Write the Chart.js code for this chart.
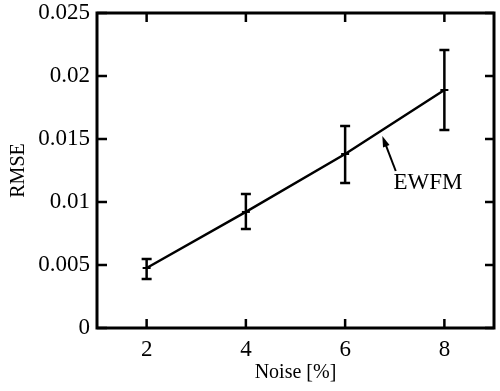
<!DOCTYPE html>
<html>
<head>
<meta charset="utf-8">
<script src="https://cdn.jsdelivr.net/npm/chart.js@4"></script>
<style>
  html, body { margin: 0; padding: 0; background: #fff; }
  #wrap { width: 500px; height: 391px; }
</style>
</head>
<body>
<div id="wrap"><canvas id="rmseChart"></canvas></div>
<script>
// data
const noise = [2, 4, 6, 8];
const rmse = [0.00476, 0.00921, 0.01381, 0.01889];
const rmseLow = [0.00389, 0.00786, 0.01151, 0.01571];
const rmseHigh = [0.00548, 0.01063, 0.01603, 0.02206];
const xTicks = [2, 4, 6, 8];
const yTicks = [0, 0.005, 0.01, 0.015, 0.02, 0.025];
const yTickLabels = ['0', '0.005', '0.01', '0.015', '0.02', '0.025'];
const seriesName = 'EWFM';
// annotation: arrow tail/tip and label anchor, in data units
const arrowTail = [7.02, 0.01246];
const arrowTip = [6.75, 0.01524];
const labelAt = [6.975, 0.01151];

const serif = 'Liberation Serif, Times New Roman, serif';

// frame, inward ticks, error bars and the annotation
const decorations = {
    id: 'decorations',
    afterDatasetsDraw(chart) {
        const ctx = chart.ctx;
        const area = chart.chartArea;
        const xs = chart.scales.x;
        const ys = chart.scales.y;
        ctx.save();
        ctx.strokeStyle = '#000';

        // error bars
        ctx.lineWidth = 2.5;
        noise.forEach((n, i) => {
            const px = xs.getPixelForValue(n);
            const lo = ys.getPixelForValue(rmseLow[i]);
            const hi = ys.getPixelForValue(rmseHigh[i]);
            ctx.beginPath();
            ctx.moveTo(px, lo); ctx.lineTo(px, hi);
            ctx.moveTo(px - 5, lo); ctx.lineTo(px + 5, lo);
            ctx.moveTo(px - 5, hi); ctx.lineTo(px + 5, hi);
            ctx.stroke();
        });

        // ticks pointing inward, on all four sides
        ctx.lineWidth = 2.5;
        ctx.beginPath();
        xTicks.forEach(v => {
            const px = xs.getPixelForValue(v);
            ctx.moveTo(px, area.bottom); ctx.lineTo(px, area.bottom - 9);
            ctx.moveTo(px, area.top); ctx.lineTo(px, area.top + 9);
        });
        yTicks.forEach(v => {
            const py = ys.getPixelForValue(v);
            ctx.moveTo(area.left, py); ctx.lineTo(area.left + 10, py);
            ctx.moveTo(area.right, py); ctx.lineTo(area.right - 9, py);
        });
        ctx.stroke();

        // box
        ctx.lineWidth = 3;
        ctx.strokeRect(area.left, area.top, area.right - area.left, area.bottom - area.top);

        // arrow + label
        const tx = xs.getPixelForValue(arrowTail[0]), ty = ys.getPixelForValue(arrowTail[1]);
        const hx = xs.getPixelForValue(arrowTip[0]), hy = ys.getPixelForValue(arrowTip[1]);
        const ang = Math.atan2(hy - ty, hx - tx);
        ctx.lineWidth = 2;
        ctx.beginPath();
        ctx.moveTo(tx, ty);
        ctx.lineTo(hx - 6 * Math.cos(ang), hy - 6 * Math.sin(ang));
        ctx.stroke();
        ctx.fillStyle = '#000';
        ctx.beginPath();
        ctx.moveTo(hx, hy);
        ctx.lineTo(hx - 11 * Math.cos(ang) + 3.5 * Math.sin(ang), hy - 11 * Math.sin(ang) - 3.5 * Math.cos(ang));
        ctx.lineTo(hx - 11 * Math.cos(ang) - 3.5 * Math.sin(ang), hy - 11 * Math.sin(ang) + 3.5 * Math.cos(ang));
        ctx.closePath();
        ctx.fill();

        ctx.font = '23px ' + serif;
        ctx.textAlign = 'left';
        ctx.textBaseline = 'middle';
        ctx.fillText(seriesName, xs.getPixelForValue(labelAt[0]), ys.getPixelForValue(labelAt[1]));
        ctx.restore();
    }
};

const ctx = document.getElementById('rmseChart').getContext('2d');

new Chart(ctx, {
    type: 'line',
    data: {
        datasets: [{
            label: seriesName,
            data: noise.map((n, i) => ({ x: n, y: rmse[i] })),
            borderColor: '#000',
            borderWidth: 2.5,
            pointStyle: 'line',
            pointRadius: 4,
            pointBorderWidth: 2,
            pointBorderColor: '#000',
            tension: 0
        }]
    },
    options: {
        responsive: true,
        maintainAspectRatio: false,
        animation: false,
        layout: { padding: { left: 0, top: 13, right: 4, bottom: 0 } },
        plugins: {
            legend: { display: false },
            tooltip: { enabled: false }
        },
        scales: {
            x: {
                type: 'linear',
                min: 1,
                max: 9,
                border: { display: false },
                grid: { display: false, drawTicks: false },
                afterBuildTicks: s => { s.ticks = xTicks.map(v => ({ value: v })); },
                afterFit: s => { s.height = 63; s.paddingLeft = 0; s.paddingRight = 0; },
                ticks: {
                    color: '#000',
                    padding: 8,
                    maxRotation: 0,
                    font: { family: serif, size: 23 }
                },
                title: {
                    display: true,
                    text: 'Noise [%]',
                    color: '#000',
                    padding: { top: 0, bottom: 6 },
                    font: { family: serif, size: 20 }
                }
            },
            y: {
                min: 0,
                max: 0.025,
                border: { display: false },
                grid: { display: false, drawTicks: false },
                afterBuildTicks: s => { s.ticks = yTicks.map(v => ({ value: v })); },
                afterFit: s => { s.width = 97; s.paddingTop = 0; s.paddingBottom = 0; },
                ticks: {
                    color: '#000',
                    padding: 7,
                    font: { family: serif, size: 23 },
                    callback: (v, i) => yTickLabels[i]
                },
                title: {
                    display: true,
                    text: 'RMSE',
                    color: '#000',
                    padding: { top: 7, bottom: 0 },
                    font: { family: serif, size: 20 }
                }
            }
        }
    },
    plugins: [decorations]
});
</script>
</body>
</html>
